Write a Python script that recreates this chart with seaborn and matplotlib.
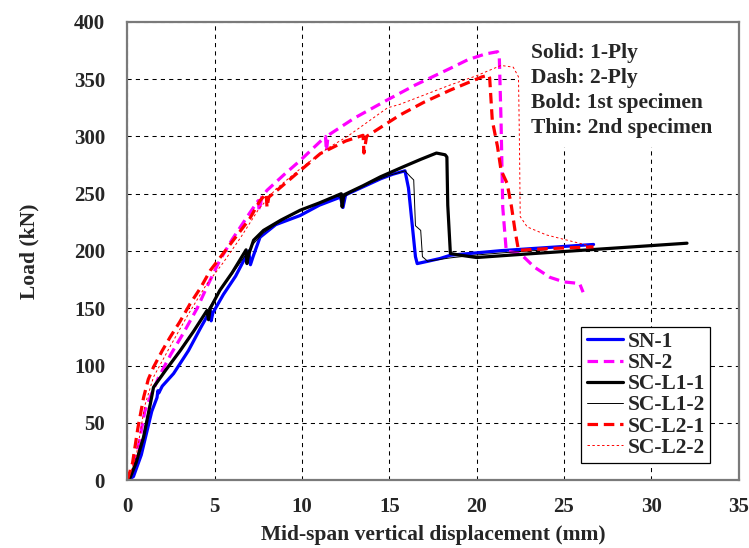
"""Load versus mid-span displacement curves for the SN and SC-L specimens."""

import matplotlib.pyplot as plt
import pandas as pd
import seaborn as sns
from matplotlib.patches import Rectangle


# Mid-span displacement (mm) and load (kN)
SN1_X = [0, 0.35, 0.8, 1.13, 1.4, 1.7, 1.75, 1.8, 2.0, 2.65, 3.5, 4.2, 4.75, 4.8, 4.9,
         5.5, 6.2, 6.95, 7.05, 7.2, 7.6, 8.5, 9.9, 11.0, 12.2, 12.35, 12.5, 13.5, 14.5,
         15.2, 15.9, 16.1, 16.3, 16.5, 16.6, 17.2, 17.9, 18.5, 21.4, 26.7]
SN1_Y = [0, 3, 22, 43, 60, 72, 78, 76, 82, 93, 113, 133, 148, 139, 146,
         162, 178, 200, 188, 195, 212, 223, 231, 240, 247, 238, 249, 256, 263,
         267, 270, 255, 225, 195, 189, 191, 193.4, 196.3, 200.3, 205.7]

SN2_X = [0, 0.3, 0.7, 1.0, 1.3, 1.8, 2.5, 3.2, 4.0, 4.6, 5.3, 6.0, 7.0, 7.5, 7.55,
         7.7, 8.0, 9.0, 9.9, 11.35, 11.4, 11.5, 13.0, 14.9, 16.5, 18.5, 19.5, 20.5,
         21.2, 21.3, 21.4, 21.5, 21.7, 22.5, 23.3, 24.2, 25.0, 25.9, 26.1]
SN2_Y = [0, 8, 35, 60, 72, 90, 110, 128, 150, 170, 192, 210, 233, 244, 235,
         247, 253, 267, 279, 300, 287, 301, 316, 332, 345, 359.5, 367, 372,
         374, 370, 314, 238, 200, 197.8, 186, 177, 173, 171.6, 164]

SCL11_X = [0, 0.17, 0.5, 0.93, 1.32, 1.5, 2.2, 3.03, 3.8, 4.56, 4.65, 4.75, 5.3, 6.0,
           6.8, 6.85, 6.95, 7.23, 7.8, 8.8, 9.9, 11.0, 12.25, 12.3, 12.4, 13.5, 14.5,
           15.8, 16.8, 17.7, 18.2, 18.3, 18.35, 18.5, 19.07, 20.0, 23.0, 26.7, 32.05]
SCL11_Y = [0, 2.5, 15, 37.5, 66.7, 81, 96, 113, 130, 148, 140, 150, 165.7, 181,
           201, 189, 197, 209.4, 218, 227, 235.6, 242, 250, 238.5, 249, 257, 264.8,
           273.5, 280, 285.5, 284, 282, 240, 197.8, 196.3, 194.3, 197.5, 201.3, 206.8]

SCL12_X = [0, 0.2, 0.9, 1.3, 1.5, 2.2, 3.0, 4.5, 5.3, 6.0, 6.8, 7.2, 7.8, 9.0, 10.0,
           12.0, 12.3, 13.0, 14.0, 15.0, 15.9, 16.2, 16.4, 16.5, 16.8, 16.9, 17.2,
           18.5, 20.0, 22.0, 24.0]
SCL12_Y = [0, 4, 38, 68, 82, 97, 113, 146, 165, 180, 197, 206, 216, 228, 236,
           248, 246, 253, 260, 266, 270, 265, 262, 222, 218, 195, 191,
           194, 196.5, 199, 201]

SCL21_X = [0, 0.3, 0.6, 0.93, 1.2, 1.5, 2.0, 2.46, 3.0, 3.6, 4.2, 4.75, 5.5, 6.2, 7.0,
           7.6, 7.95, 8.0, 8.1, 8.5, 9.5, 11.05, 12.5, 13.5, 13.55, 13.7, 15.6, 17.0,
           18.5, 20.3, 20.7, 20.75, 20.9, 21.2, 21.4, 21.75, 22.0, 22.2, 22.4, 24.0, 26.7]
SCL21_Y = [0, 15, 45, 72, 88, 98.6, 113, 125, 138, 154, 168, 183, 198, 212, 228,
           244, 250, 238, 247, 252, 265, 285, 296, 301, 285.5, 300, 318.6, 330,
           340.5, 352, 353.5, 351, 314, 291, 270.6, 259, 238.6, 218, 200.6, 202, 203.6]

SCL22_X = [0, 0.5, 1.0, 1.5, 2.5, 3.5, 4.5, 5.5, 6.5, 7.5, 8.5, 10.0, 11.5, 12.6,
           14.9, 15.6, 18.5, 20.0, 21.4, 22.1, 22.4, 22.45, 22.5, 22.9, 24.0, 25.2, 26.7]
SCL22_Y = [0, 20, 65, 90, 118, 145, 170, 190, 212, 236, 254, 273, 290, 300,
           325, 328, 345, 353, 362, 360.5, 352, 300, 230, 221, 214, 209.4, 203.6]

SERIES_NAMES = ["SN-1", "SN-2", "SC-L1-1", "SC-L1-2", "SC-L2-1", "SC-L2-2"]
SERIES_DATA = [(SN1_X, SN1_Y), (SN2_X, SN2_Y), (SCL11_X, SCL11_Y),
               (SCL12_X, SCL12_Y), (SCL21_X, SCL21_Y), (SCL22_X, SCL22_Y)]

LINE_STYLES = {
    "SN-1": dict(color="#0000FF", linewidth=2.3, linestyle="-"),
    "SN-2": dict(color="#FF00FF", linewidth=2.3, linestyle=(0, (3.3, 1.8))),
    "SC-L1-1": dict(color="black", linewidth=2.3, linestyle="-"),
    "SC-L1-2": dict(color="black", linewidth=0.7, linestyle="-"),
    "SC-L2-1": dict(color="#FF0000", linewidth=2.3, linestyle=(0, (3.3, 1.8))),
    "SC-L2-2": dict(color="#FF0000", linewidth=0.7, linestyle=(0, (2.5, 2.5))),
}

NOTE_LINES = ["Solid: 1-Ply", "Dash: 2-Ply", "Bold: 1st specimen", "Thin: 2nd specimen"]

FONT_SIZE = 15.5
TICK_SIZE = 15


def main() -> None:
    sns.set_style("white")
    plt.rcParams["font.family"] = ["Liberation Serif", "DejaVu Serif"]
    plt.rcParams["font.weight"] = "bold"

    fig, ax = plt.subplots(figsize=(7.49, 5.48), dpi=100)
    fig.subplots_adjust(left=0.170, right=0.986, bottom=0.124, top=0.960)

    for name, (xs, ys) in zip(SERIES_NAMES, SERIES_DATA):
        df = pd.DataFrame({"disp": xs, "load": ys})
        sns.lineplot(
            data=df, x="disp", y="load", sort=False, estimator=None,
            label=name, ax=ax, **LINE_STYLES[name],
        )

    ax.set_xlim(0, 35)
    ax.set_ylim(0, 400)
    ax.set_xticks(range(0, 36, 5))
    ax.set_yticks(range(0, 401, 50))
    ax.grid(True, color="black", linewidth=0.75, linestyle=(0, (4, 4)))
    ax.set_axisbelow(True)

    # white panel behind the notes, hiding the grid there
    ax.add_patch(Rectangle((0.641, 0.727), 0.36, 0.28, transform=ax.transAxes,
                           facecolor="white", edgecolor="none", zorder=1))

    ax.set_xlabel("Mid-span vertical displacement (mm)", fontsize=FONT_SIZE,
                  fontweight="bold", labelpad=6)
    ax.set_ylabel("Load (kN)", fontsize=FONT_SIZE, fontweight="bold", labelpad=25)
    ax.tick_params(axis="both", direction="in", length=4, color="#808080",
                   labelsize=TICK_SIZE)
    ax.tick_params(axis="x", pad=12)
    ax.tick_params(axis="y", pad=16)
    for label in ax.get_xticklabels() + ax.get_yticklabels():
        label.set_fontweight("bold")
    for spine in ax.spines.values():
        spine.set_color("#7a7a7a")
        spine.set_linewidth(1.6)
        spine.set_zorder(3)

    for i, line in enumerate(NOTE_LINES):
        ax.text(0.661, 0.933 - i * 0.0546, line, transform=ax.transAxes,
                fontsize=FONT_SIZE, fontweight="bold", va="center", ha="left",
                zorder=4)

    ax.legend(
        loc="lower right", bbox_to_anchor=(0.954, 0.037), borderaxespad=0,
        frameon=True, fancybox=False, edgecolor="black", framealpha=1,
        handlelength=1.7, handletextpad=0.2, labelspacing=0.05, borderpad=0.25,
        prop={"size": FONT_SIZE, "weight": "bold"},
    ).get_frame().set_linewidth(0.9)

    fig.savefig("out.png", dpi=100)
    plt.close(fig)


if __name__ == "__main__":
    main()
